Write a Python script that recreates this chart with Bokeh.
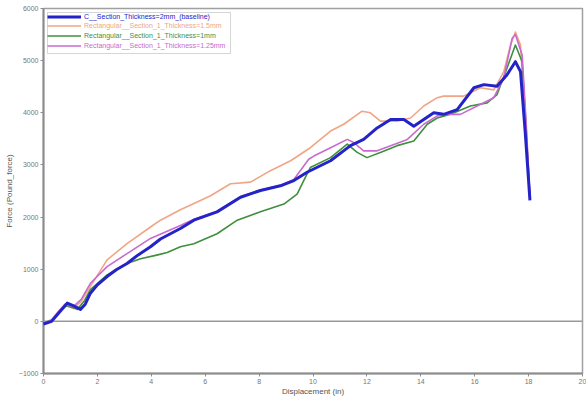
from bokeh.plotting import figure
from bokeh.models import Legend, LegendItem, Span, BoxAnnotation, FixedTicker, Range1d
from bokeh.embed import file_html
from bokeh.resources import INLINE

# ---- data ----
names = [
    "C__Section_Thickness=2mm_(baseline)",
    "Rectangular__Section_1_Thickness=1.5mm",
    "Rectangular__Section_1_Thickness=1mm",
    "Rectangular__Section_1_Thickness=1.25mm",
]
colors = ["#2323c8", "#f0a585", "#3f8f3f", "#c86ad0"]
widths = [3.0, 1.6, 1.6, 1.6]

blue_x = [0, 0.3, 0.55, 0.88, 1.1, 1.37, 1.55, 1.74, 2.0, 2.36, 2.7, 3.1, 3.5, 3.97, 4.34, 5.08, 5.58, 6.44, 7.31, 8.05, 8.79, 9.29, 9.78, 10.65, 11.39, 11.88, 12.38, 12.88, 13.37, 13.74, 14.11, 14.48, 14.85, 15.35, 15.97, 16.34, 16.83, 17.2, 17.51, 17.7, 17.88, 18.05]
blue_y = [-50, 0, 150, 350, 300, 230, 330, 540, 700, 860, 990, 1110, 1270, 1430, 1580, 1780, 1940, 2100, 2380, 2510, 2600, 2700, 2860, 3080, 3370, 3490, 3710, 3870, 3870, 3740, 3870, 4000, 3970, 4060, 4480, 4540, 4510, 4730, 4980, 4790, 3590, 2320]

orange_x = [0, 0.3, 0.55, 0.82, 1.1, 1.4, 1.74, 2.36, 3.1, 3.97, 4.34, 5.08, 5.58, 6.2, 6.94, 7.68, 8.42, 9.17, 9.9, 10.65, 11.14, 11.82, 12.13, 12.5, 13.12, 13.62, 14.11, 14.61, 14.85, 15.59, 16.21, 16.71, 17.08, 17.33, 17.51, 17.7, 17.88, 18.05]
orange_y = [-30, 20, 180, 320, 250, 380, 670, 1180, 1490, 1810, 1940, 2140, 2260, 2410, 2640, 2670, 2890, 3080, 3330, 3650, 3780, 4030, 4000, 3840, 3840, 3900, 4130, 4290, 4320, 4320, 4480, 4440, 4790, 5300, 5550, 5300, 3800, 2380]

green_x = [0, 0.3, 0.55, 0.85, 1.25, 1.5, 1.74, 2.36, 3.1, 3.6, 4.2, 4.59, 5.08, 5.58, 6.44, 7.19, 8.05, 8.92, 9.41, 9.78, 9.9, 10.65, 11.27, 11.64, 12.0, 12.5, 13.12, 13.74, 14.24, 14.61, 15.1, 15.84, 16.46, 16.83, 17.2, 17.51, 17.76, 17.9, 18.05]
green_y = [-30, 20, 160, 300, 230, 380, 610, 890, 1110, 1200, 1270, 1320, 1430, 1490, 1680, 1940, 2100, 2250, 2440, 2830, 2950, 3140, 3400, 3240, 3140, 3240, 3370, 3460, 3780, 3900, 3970, 4130, 4190, 4350, 4860, 5300, 4980, 3800, 2350]

pink_x = [0, 0.3, 0.55, 0.8, 1.1, 1.4, 1.74, 2.36, 3.1, 3.97, 5.08, 5.58, 6.44, 7.31, 8.05, 8.79, 9.29, 9.84, 10.03, 10.65, 11.27, 11.51, 11.88, 12.38, 12.88, 13.5, 14.11, 14.61, 15.0, 15.47, 16.09, 16.71, 17.08, 17.39, 17.51, 17.76, 17.9, 18.05]
pink_y = [-30, 30, 190, 330, 280, 420, 730, 1050, 1300, 1590, 1840, 1960, 2110, 2390, 2520, 2610, 2720, 3110, 3170, 3330, 3490, 3430, 3270, 3270, 3370, 3490, 3780, 3940, 3970, 3970, 4130, 4290, 4670, 5430, 5500, 5110, 3900, 2400]

series = [(blue_x, blue_y), (orange_x, orange_y), (green_x, green_y), (pink_x, pink_y)]
x_ticks = list(range(0, 21, 2))
y_ticks = list(range(-1000, 6001, 1000))

FONT = "Liberation Sans"
GREY = "#8c8c8c"

p = figure(width=586, height=398, output_backend="svg", toolbar_location=None,
           x_range=Range1d(0, 20), y_range=Range1d(-1000, 6000),
           min_border_left=43, min_border_right=4, min_border_top=8, min_border_bottom=21)
p.xgrid.visible = False
p.ygrid.visible = False
p.outline_line_color = "#a0a0a0"
p.outline_line_width = 1.5

for ax in (p.xaxis[0], p.yaxis[0]):
    ax.axis_line_color = GREY
    ax.axis_line_width = 2
    ax.major_tick_line_color = GREY
    ax.minor_tick_line_color = None
    ax.major_tick_out = 3
    ax.major_tick_in = 0
    ax.major_label_text_font = FONT
    ax.major_label_text_font_size = "7px"
    ax.major_label_text_color = "#777777"
    ax.axis_label_text_font = FONT
    ax.axis_label_text_font_style = "normal"
    ax.axis_label_text_color = "#555555"
    ax.axis_label_text_font_size = "8px"
p.xaxis[0].ticker = FixedTicker(ticks=x_ticks)
p.yaxis[0].ticker = FixedTicker(ticks=y_ticks)
p.xaxis[0].axis_label = "Displacement (in)"
p.yaxis[0].axis_label = "Force (Pound_force)"
p.xaxis[0].major_label_standoff = 2
p.yaxis[0].major_label_standoff = 2
p.xaxis[0].axis_label_standoff = 0
p.yaxis[0].axis_label_standoff = 2

p.add_layout(Span(location=0, dimension="width", line_color="#999999", line_width=1.5))

renderers = []
for (xs, ys), c, w in zip(series, colors, widths):
    renderers.append(p.line(xs, ys, line_color=c, line_width=w, line_join="round"))
renderers[0].level = "overlay"

row_centers = [15.7, 25.3, 34.9, 44.5]
for name, c, r, rc in zip(names, colors, renderers, row_centers):
    lg = Legend(items=[LegendItem(label=name, renderers=[r])],
                location=(4, 377 - rc - 5.5 - 3.5), border_line_color=None,
                background_fill_alpha=0, padding=1, margin=0, spacing=0,
                label_text_font=FONT, label_text_font_size="7px",
                label_text_color=c, label_height=9, glyph_height=9, glyph_width=34,
                label_standoff=3)
    p.add_layout(lg)

p.add_layout(BoxAnnotation(left=4, right=187, top=361, bottom=320,
                           left_units="screen", right_units="screen",
                           top_units="screen", bottom_units="screen",
                           fill_alpha=0, line_color="#777777", line_width=1))

open("out.html", "w").write(file_html(p, INLINE))
